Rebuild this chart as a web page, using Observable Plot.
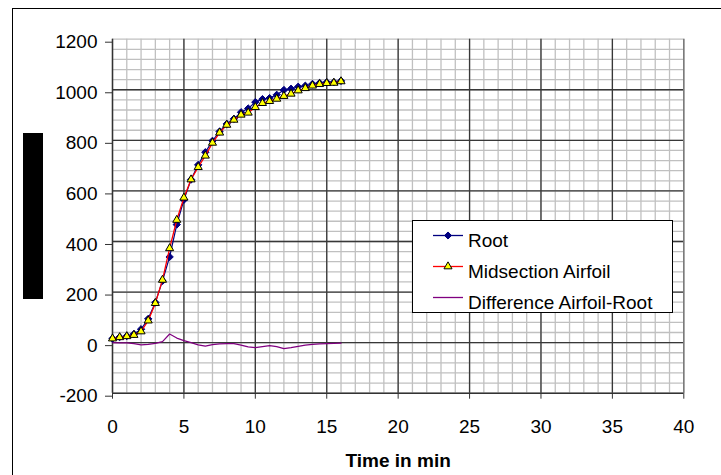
<!DOCTYPE html>
<html>
<head>
<meta charset="utf-8">
<script src="https://cdn.jsdelivr.net/npm/d3@7"></script>
<script src="https://cdn.jsdelivr.net/npm/@observablehq/plot@0.6"></script>
<style>
  html, body { margin: 0; padding: 0; background: #fff; }
  body { width: 721px; height: 475px; overflow: hidden; position: relative; font-family: "Liberation Sans", Arial, sans-serif; }
  #frameL { position: absolute; left: 12px; top: 8px; width: 1px; height: 467px; background: #000; }
  #frameT { position: absolute; left: 12px; top: 8px; width: 709px; height: 1px; background: #000; }
  #bar { position: absolute; left: 23px; top: 133px; width: 20px; height: 166px; background: #000; }
  #chart { position: absolute; left: 0; top: 0; }
  #legend { position: absolute; left: 0; top: 0; }
</style>
</head>
<body>
<div id="frameL"></div>
<div id="frameT"></div>
<div id="bar"></div>
<div id="chart"></div>
<svg id="legend" width="721" height="475"></svg>
<script>
// ---- data ----
const times = [0, 0.5, 1, 1.5, 2, 2.5, 3, 3.5, 4, 4.5, 5, 5.5, 6, 6.5, 7, 7.5, 8, 8.5, 9, 9.5, 10, 10.5, 11, 11.5, 12, 12.5, 13, 13.5, 14, 14.5, 15, 15.5, 16];
const rootValues = [16, 22, 26, 34, 53, 94, 159, 244, 339, 467, 565, 645, 703, 753, 798, 835, 865, 885, 911, 926, 951, 963, 967, 980, 999, 1004, 1012, 1016, 1023, 1027, 1030, 1030, 1035];
const midValues = [16, 21, 25, 30, 44, 87, 156, 248, 373, 485, 573, 645, 694, 739, 790, 830, 861, 881, 901, 909, 931, 947, 955, 964, 975, 984, 997, 1006, 1016, 1022, 1026, 1027, 1033];
const diffValues = [0, -1, -1, -4, -9, -7, -3, 4, 34, 18, 8, 0, -9, -14, -8, -5, -4, -4, -10, -17, -20, -16, -12, -16, -24, -20, -15, -10, -7, -5, -4, -3, -2];
const xTicks = [0, 5, 10, 15, 20, 25, 30, 35, 40];
const yTicks = [-200, 0, 200, 400, 600, 800, 1000, 1200];
const seriesNames = ["Root", "Midsection Airfoil", "Difference Airfoil-Root"];
const xLabel = "Time in min";

const table = times.map((t, i) => ({t, root: rootValues[i], mid: midValues[i], diff: diffValues[i]}));

const minorX = d3.range(0, 41, 1);
const minorY = d3.range(-200, 1201, 40);
const majorX = xTicks.filter(v => v > 0 && v < 40);
const majorY = yTicks.filter(v => v > -200 && v < 1200);

const plot = Plot.plot({
  width: 721,
  height: 475,
  marginLeft: 112,
  marginRight: 37.7,
  marginTop: 38.7,
  marginBottom: 82.3,
  x: {domain: [0, 40]},
  y: {domain: [-200, 1200]},
  style: {fontFamily: '"Liberation Sans", Arial, sans-serif', fontSize: "19px", color: "#000", background: "transparent", overflow: "visible"},
  marks: [
    Plot.ruleX(minorX, {stroke: "#c0c0c0", strokeWidth: 1.3}),
    Plot.ruleY(minorY, {stroke: "#c0c0c0", strokeWidth: 1.3}),
    Plot.ruleX(majorX, {stroke: "#383838", strokeWidth: 1.3}),
    Plot.ruleY(majorY, {stroke: "#383838", strokeWidth: 1.3}),
    Plot.ruleX([40], {stroke: "#777", strokeWidth: 1.5}),
    Plot.ruleX([0], {stroke: "#333", strokeWidth: 1.5}),
    Plot.ruleY([-200], {stroke: "#333", strokeWidth: 1.5}),
    Plot.axisY({ticks: yTicks, tickSize: 7, tickPadding: 8, label: null, dy: 3, tickFormat: d => String(d), stroke: "#333"}),
    Plot.axisX({ticks: xTicks, tickSize: 6, tickPadding: 20, label: null, tickFormat: d => String(d), stroke: "#333"}),
    Plot.text([xLabel], {frameAnchor: "bottom", dy: 74, lineAnchor: "bottom", fontWeight: "bold", fontSize: 19}),
    Plot.line(table, {x: "t", y: "diff", stroke: "#800080", strokeWidth: 1.2}),
    Plot.line(table, {x: "t", y: "root", stroke: "#000080", strokeWidth: 1.2}),
    Plot.dot(table, {x: "t", y: "root", symbol: "diamond2", r: 3.3, fill: "#000080", stroke: "#000080", strokeWidth: 1}),
    Plot.line(table, {x: "t", y: "mid", stroke: "#ff0000", strokeWidth: 1.3}),
    Plot.dot(table, {x: "t", y: "mid", symbol: "triangle", r: 3.0, fill: "#ffff00", stroke: "#000", strokeWidth: 1})
  ]
});
document.getElementById("chart").appendChild(plot);

// ---- legend ----
const lg = d3.select("#legend");
lg.append("rect").attr("x", 412.5).attr("y", 220.5).attr("width", 260).attr("height", 92)
  .attr("fill", "#fff").attr("stroke", "#000").attr("stroke-width", 1);
const rows = [
  {name: seriesNames[0], color: "#000080", sym: "diamond"},
  {name: seriesNames[1], color: "#ff0000", sym: "triangle"},
  {name: seriesNames[2], color: "#800080", sym: null}
];
rows.forEach((r, i) => {
  const ly = 235.5 + i * 31;
  lg.append("line").attr("x1", 433).attr("x2", 463).attr("y1", ly).attr("y2", ly)
    .attr("stroke", r.color).attr("stroke-width", 1.3);
  if (r.sym === "diamond") {
    lg.append("path").attr("d", d3.symbol(d3.symbolDiamond2, 32)())
      .attr("transform", `translate(448,${ly})`).attr("fill", "#000080").attr("stroke", "#000080").attr("stroke-width", 1);
  } else if (r.sym === "triangle") {
    lg.append("path").attr("d", d3.symbol(d3.symbolTriangle, 28)())
      .attr("transform", `translate(448,${ly})`).attr("fill", "#ffff00").attr("stroke", "#000").attr("stroke-width", 1);
  }
  lg.append("text").attr("x", 468).attr("y", ly + 11)
    .attr("font-family", '"Liberation Sans", Arial, sans-serif').attr("font-size", 19).attr("fill", "#000")
    .text(r.name);
});
</script>
</body>
</html>
